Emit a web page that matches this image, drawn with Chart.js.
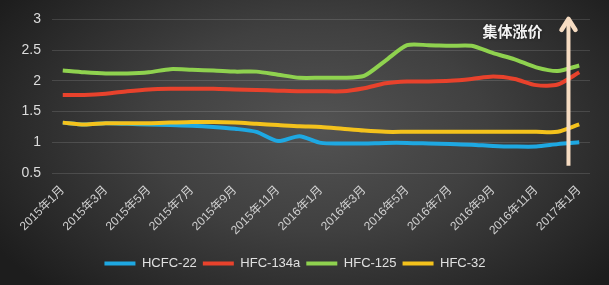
<!DOCTYPE html>
<html>
<head>
<meta charset="utf-8">
<script src="https://cdn.jsdelivr.net/npm/chart.js@4"></script>
<style>
    html, body { margin: 0; padding: 0; }
    #wrap {
        width: 609px;
        height: 285px;
        background: radial-gradient(ellipse 62% 80% at 52% 45%, #535353 0%, #404040 45%, #1d1d1d 100%);
    }
    canvas { display: block; }
</style>
</head>
<body>
<div id="wrap"><canvas id="chart" width="609" height="285"></canvas></div>
<script>
// Месяцы (ось X)
const months = [
    '2015年1月', '2015年2月', '2015年3月', '2015年4月', '2015年5月', '2015年6月',
    '2015年7月', '2015年8月', '2015年9月', '2015年10月', '2015年11月', '2015年12月',
    '2016年1月', '2016年2月', '2016年3月', '2016年4月', '2016年5月', '2016年6月',
    '2016年7月', '2016年8月', '2016年9月', '2016年10月', '2016年11月', '2016年12月',
    '2017年1月'
];

// Серии
const hcfc22 = [1.32, 1.29, 1.31, 1.30, 1.29, 1.28, 1.27, 1.25, 1.22, 1.17, 1.02, 1.10, 0.99,
    0.98, 0.98, 0.99, 0.99, 0.98, 0.97, 0.96, 0.94, 0.93, 0.93, 0.97, 1.00];
const hfc134a = [1.77, 1.77, 1.79, 1.83, 1.86, 1.87, 1.87, 1.87, 1.86, 1.85, 1.84, 1.83, 1.83,
    1.83, 1.88, 1.96, 1.99, 1.99, 2.00, 2.03, 2.07, 2.03, 1.93, 1.94, 2.14];
const hfc125 = [2.17, 2.14, 2.12, 2.12, 2.14, 2.19, 2.18, 2.17, 2.15, 2.15, 2.10, 2.05, 2.05,
    2.05, 2.08, 2.33, 2.58, 2.58, 2.57, 2.57, 2.45, 2.35, 2.22, 2.16, 2.25];
const hfc32 = [1.32, 1.29, 1.31, 1.31, 1.31, 1.32, 1.33, 1.33, 1.32, 1.30, 1.28, 1.26, 1.25,
    1.22, 1.19, 1.17, 1.17, 1.17, 1.17, 1.17, 1.17, 1.17, 1.17, 1.17, 1.29];

const seriesNames = ['HCFC-22', 'HFC-134a', 'HFC-125', 'HFC-32'];
const seriesColors = ['#1ea8e2', '#e8422c', '#8fd24f', '#f4c21c'];
const yTicks = [0.5, 1, 1.5, 2, 2.5, 3];

// Подпись и стрелка
const arrowText = '集体涨价';
const arrowAt = 23.5;       // позиция стрелки по оси X (индекс месяца)
const arrowFrom = 0.62;
const arrowTo = 3.04;
const textAt = 20.9;
const textY = 2.8;

const narrow = '"Liberation Sans Narrow", "Liberation Sans", "Noto Sans CJK SC", sans-serif';

const arrowPlugin = {
    id: 'arrow',
    afterDatasetsDraw(chart) {
        const ctx = chart.ctx;
        const xs = chart.scales.x, ys = chart.scales.y;
        const x = xs.getPixelForValue(arrowAt);
        const y0 = ys.getPixelForValue(arrowFrom);
        const y1 = ys.getPixelForValue(arrowTo);
        ctx.save();
        ctx.strokeStyle = '#f6dcc2';
        ctx.lineWidth = 4;
        ctx.lineCap = 'butt';
        ctx.beginPath();
        ctx.moveTo(x, y0);
        ctx.lineTo(x, y1 + 2);
        ctx.stroke();
        ctx.lineWidth = 4.5;
        ctx.lineCap = 'round';
        ctx.lineJoin = 'round';
        ctx.beginPath();
        ctx.moveTo(x - 7, y1 + 13);
        ctx.lineTo(x, y1 + 2);
        ctx.lineTo(x + 7, y1 + 13);
        ctx.stroke();

        ctx.font = 'bold 15px "Noto Sans CJK SC", sans-serif';
        ctx.fillStyle = '#f2f2f2';
        ctx.textAlign = 'center';
        ctx.textBaseline = 'middle';
        ctx.shadowColor = 'rgba(0,0,0,0.6)';
        ctx.shadowBlur = 3;
        ctx.fillText(arrowText, xs.getPixelForValue(textAt), ys.getPixelForValue(textY));
        ctx.restore();
    }
};

const ctx = document.getElementById('chart').getContext('2d');
const data = [hcfc22, hfc134a, hfc125, hfc32];

new Chart(ctx, {
    type: 'line',
    data: {
        labels: months,
        datasets: data.map((d, i) => ({
            label: seriesNames[i],
            data: d,
            borderColor: seriesColors[i],
            backgroundColor: seriesColors[i],
            borderWidth: 4,
            pointRadius: 0,
            tension: 0.25,
            order: i === 3 ? 0 : i + 1
        }))
    },
    options: {
        responsive: false,
        devicePixelRatio: 1,
        animation: false,
        layout: { padding: { top: 8, right: 19, left: 0, bottom: 5 } },
        plugins: {
            tooltip: { enabled: false },
            legend: {
                position: 'bottom',
                labels: {
                    color: '#e0e0e0',
                    font: { family: narrow, size: 13 },
                    boxWidth: 31,
                    boxHeight: 4,
                    padding: 6,
                    generateLabels: chart => chart.data.datasets.map((ds, i) => ({
                        text: ds.label,
                        fillStyle: ds.borderColor,
                        strokeStyle: ds.borderColor,
                        lineWidth: 0,
                        hidden: false,
                        datasetIndex: i,
                        fontColor: '#e0e0e0'
                    }))
                }
            }
        },
        scales: {
            x: {
                offset: true,
                grid: { display: false },
                border: { display: false },
                ticks: {
                    color: '#cfcfcf',
                    font: { family: narrow, size: 12 },
                    autoSkip: false,
                    minRotation: 45,
                    maxRotation: 45,
                    padding: 2,
                    callback: function(v, i) { return i % 2 === 0 ? months[i] : ''; }
                },
                afterFit: s => { s.height = 78; }
            },
            y: {
                min: 0.5,
                max: 3,
                grid: { color: 'rgba(255,255,255,0.13)', drawTicks: false, lineWidth: 1 },
                border: { display: false },
                afterBuildTicks: s => { s.ticks = yTicks.map(v => ({ value: v })); },
                ticks: {
                    color: '#dcdcdc',
                    font: { family: narrow, size: 14 },
                    padding: 11,
                    callback: v => String(v)
                },
                afterFit: s => { s.width = 52; }
            }
        }
    },
    plugins: [arrowPlugin]
});
</script>
</body>
</html>
